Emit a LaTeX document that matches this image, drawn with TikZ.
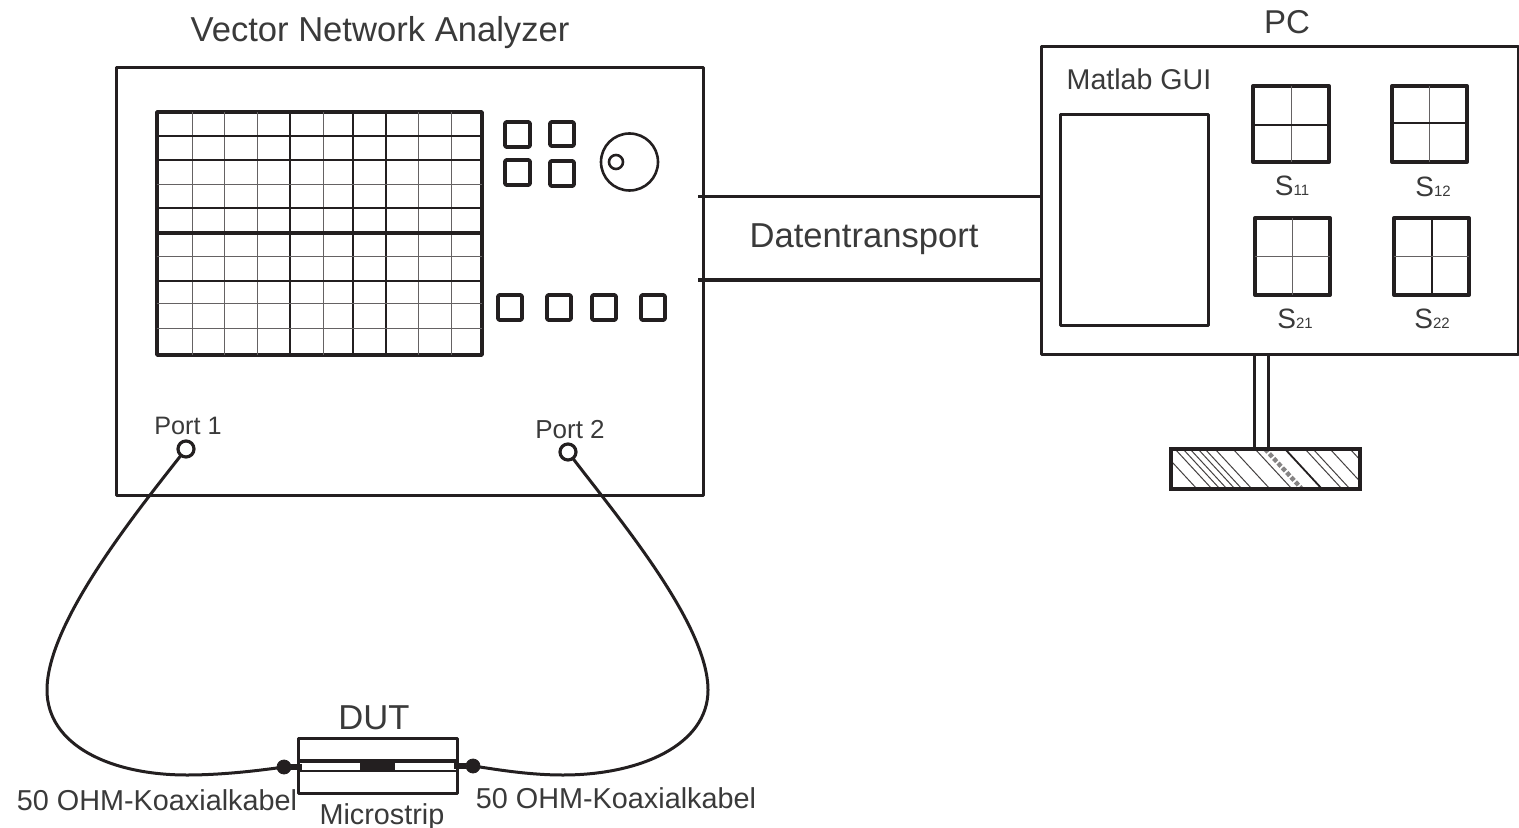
\documentclass[tikz,border=0pt]{standalone}
\usepackage{fontspec}
\setmainfont{Liberation Sans}
\definecolor{ink}{HTML}{231F20}
\definecolor{txt}{HTML}{3A3A3A}
\newcommand{\pxbox}[6]{%
  \pgfmathsetmacro{\bxc}{(#3+#5)/2}%
  \pgfmathsetmacro{\byc}{(#4+#6)/2}%
  \pgfmathsetmacro{\bxw}{(#5-#3)*0.5}%
  \pgfmathsetmacro{\byh}{(#6-#4)*0.5}%
  \node[#2,minimum width=\bxw pt,minimum height=\byh pt] (#1) at (\bxc,\byc) {};}
\newcommand{\sublab}[1]{S{\fontsize{7.5}{8}\selectfont #1}}
\tikzset{
  box/.style={draw=ink,rectangle,inner sep=0pt,outer sep=0pt,line width=1.5pt,line join=round},
  scr/.style={box,line width=1.9pt},
  key/.style={box,line width=1.8pt,rounded corners=0.6pt},
  thumb/.style={box,line width=2pt},
  gridthin/.style={draw=ink!70,line width=0.5pt},
  gridmid/.style={draw=ink,line width=0.7pt},
  gridthick/.style={draw=ink,line width=2.2pt},
  link/.style={draw=ink,line width=1.5pt},
  cable/.style={draw=ink,line width=1.5pt},
  portc/.style={draw=ink,circle,fill=white,inner sep=0pt,outer sep=0pt,line width=1.6pt,minimum size=8pt},
  knob/.style={draw=ink,circle,inner sep=0pt,outer sep=0pt,line width=1.3pt},
  joint/.style={draw=ink,fill=ink,circle,inner sep=0pt,outer sep=0pt,minimum size=7pt},
  lab/.style={text=txt,inner sep=0pt,outer sep=0pt,anchor=center},
  hatch/.style={draw=ink!85,line width=0.5pt}
}
\begin{document}
\begin{tikzpicture}[x=0.5pt,y=-0.5pt]
\useasboundingbox (0,0) rectangle (1519,828);
% ---- analyzer
\pxbox{vna}{box}{116}{68}{703}{495}
\pxbox{scrn}{scr}{157}{112}{482}{355}
\foreach \px in {192,224,257,323,418,451}{\draw[gridthin] (\px,112) -- (\px,355);}
\foreach \px in {290,353,386}{\draw[gridmid] (\px,112) -- (\px,355);}
\foreach \py in {185,257,304,329}{\draw[gridthin] (157,\py) -- (482,\py);}
\foreach \py in {136,160,208,281}{\draw[gridmid] (157,\py) -- (482,\py);}
\draw[gridthick] (157,233) -- (482,233);
\pxbox{ka}{key}{505}{122}{530}{147}
\pxbox{kb}{key}{550}{122}{574}{146}
\pxbox{kc}{key}{505}{160}{530}{185}
\pxbox{kd}{key}{550}{161}{574}{186}
\pxbox{ke}{key}{498}{295}{522}{320}
\pxbox{kf}{key}{547}{295}{571}{320}
\pxbox{kg}{key}{592}{295}{616}{320}
\pxbox{kh}{key}{641}{295}{665}{320}
\node[knob,minimum size=28.5pt] (knobo) at (629.5,162) {};
\node[knob,minimum size=7pt] (knobi) at (616,162) {};
\node[lab] (tvna) at (380,33) {\fontsize{17.3}{20}\selectfont Vector Network Analyzer};
\node[portc] (p1) at (186,449) {};
\node[portc] (p2) at (568,452) {};
\node[lab] (tp1) at (188,426) {\fontsize{12.6}{15}\selectfont Port 1};
\node[lab] (tp2) at (570,430) {\fontsize{13}{15}\selectfont Port 2};
% ---- PC
\pxbox{pc}{box}{1041}{47}{1518}{355}
\node[lab] (tpc) at (1287,22) {\fontsize{16.5}{20}\selectfont PC};
\node[lab] (tgui) at (1139,79) {\fontsize{14.3}{17}\selectfont Matlab GUI};
\pxbox{gui}{box}{1060}{115}{1208}{326}
\pxbox{s11}{thumb}{1253}{86}{1329}{162}
\pxbox{s12}{thumb}{1392}{86}{1467}{162}
\pxbox{s21}{thumb}{1255}{218}{1330}{295}
\pxbox{s22}{thumb}{1394}{218}{1469}{295}
\draw[gridthin] (s11.north) -- (s11.south);
\draw[gridmid] (s11.west |- 0,125) -- (s11.east |- 0,125);
\draw[gridthin] (s12.north) -- (s12.south);
\draw[gridmid] (s12.west |- 0,123) -- (s12.east |- 0,123);
\draw[gridthin] (s21.north) -- (s21.south);
\draw[gridthin] (s21.west |- 0,257) -- (s21.east |- 0,257);
\draw[gridmid] (1432,218) -- (1432,295);
\draw[gridthin] (s22.west |- 0,257) -- (s22.east |- 0,257);
\node[lab] (l11) at (1292,186) {\fontsize{14}{16}\selectfont \sublab{11}};
\node[lab] (l12) at (1433,187) {\fontsize{14}{16}\selectfont \sublab{12}};
\node[lab] (l21) at (1295,319) {\fontsize{14}{16}\selectfont \sublab{21}};
\node[lab] (l22) at (1432,319) {\fontsize{14}{16}\selectfont \sublab{22}};
% ---- stand
\pxbox{neck}{box}{1254}{355}{1268}{449}
\pxbox{base}{box}{1171}{449}{1360}{489}
\begin{scope}
\clip (1171,449) rectangle (1360,489);
\foreach \hx in {1160,1175,1183,1190,1198,1205,1215,1233,1255,1305,1313,1330,1350}{
  \draw[hatch] (\hx,449) -- ++(37,40);}
\draw[draw=ink!55,line width=2.2pt,densely dotted] (1265,449) -- ++(37,40);
\draw[draw=ink,line width=0.9pt] (1285,449) -- ++(37,40);
\end{scope}
\draw[draw=ink,line width=1.6pt] (base.north west) rectangle (base.south east);
% ---- data links
\coordinate (la) at (698,197);
\coordinate (lb) at (698,280);
\draw[link] (la) -- (la -| pc.west);
\draw[link,line width=1.9pt] (lb) -- (lb -| pc.west);
\node[lab] (tdata) at (864,239) {\fontsize{17.3}{20}\selectfont Datentransport};
% ---- DUT
\pxbox{dut}{box}{298}{738}{457}{793}
\node[lab] (tdut) at (374,718) {\fontsize{17.3}{20}\selectfont DUT};
\pxbox{strip}{draw=ink,rectangle,inner sep=0pt,outer sep=0pt,line width=0.9pt}{298}{761}{457}{771}
\draw[draw=ink,line width=1.6pt] (strip.north west) -- (strip.north east);
\pxbox{chip}{draw=ink,fill=ink,rectangle,inner sep=0pt,outer sep=0pt}{360}{761}{394}{771}
\node[joint] (jl) at (284,767) {};
\node[joint] (jr) at (473,766) {};
\coordinate (sl) at (302,767);
\coordinate (sr) at (454,766);
\draw[draw=ink,line width=3.4pt] (jl) -- (sl);
\draw[draw=ink,line width=3.4pt] (jr) -- (sr);
\node[lab] (tcl) at (157,800) {\fontsize{14.4}{17}\selectfont 50 OHM-Koaxialkabel};
\node[lab] (tcr) at (616,798) {\fontsize{14.4}{17}\selectfont 50 OHM-Koaxialkabel};
\node[lab] (tms) at (382,817) {\fontsize{14.4}{17}\selectfont Microstrip};
% ---- cables
\draw[cable] (p1) .. controls (130,520) and (47,625) .. (47,690)
  .. controls (47,745) and (110,775) .. (187,775)
  .. controls (220,775) and (255,771) .. (jl);
\draw[cable] (p2) .. controls (620,520) and (708,625) .. (708,690)
  .. controls (708,745) and (640,775) .. (563,775)
  .. controls (530,775) and (500,770) .. (jr);
\end{tikzpicture}
\end{document}
